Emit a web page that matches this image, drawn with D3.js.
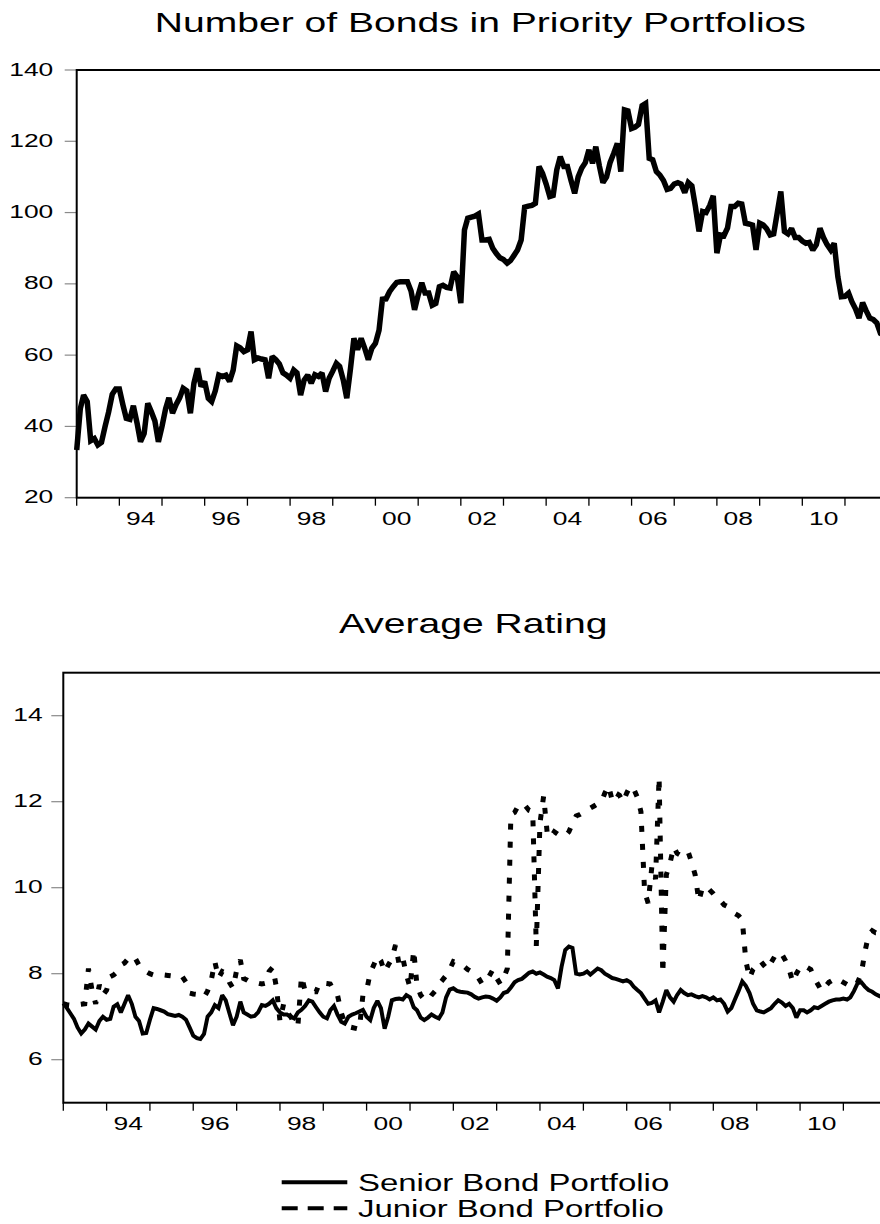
<!DOCTYPE html>
<html>
<head>
<meta charset="utf-8">
<script src="https://cdn.jsdelivr.net/npm/d3@7"></script>
<style>
  html, body { margin: 0; padding: 0; background: #fff; }
  svg { display: block; }
  text { font-family: "Liberation Sans", Arial, sans-serif; fill: #000; }
</style>
</head>
<body>
<svg id="chart" width="880" height="1224"></svg>
<script>
// Monthly observations, 1993M01 – 2011M12
const bondCounts = [
  33.4,45,48.8,47,36,36.6,34.8,35.5,40,44,
  49,50.5,50.5,46,42.3,42,45.8,41,35.7,38,
  46.5,44.2,41.5,35.7,40,45,48,43.7,46.1,48,
  50.7,50,43.7,52.1,56.3,51.2,52.6,47.9,47,50,
  54.4,54,54.4,52.6,55.8,62.6,62,61,61.5,66.6,
  58.7,59.2,58.9,58.7,53.5,59.6,58.7,57.5,55,54.4,
  53.5,55.8,55,48.8,53,54.4,52.1,54.5,54,55,
  49.8,53.5,55.5,57.7,56.8,53,47.9,56,64.7,61.5,
  64.7,62,58.7,61.9,63.3,67,75.7,75.8,77.8,79.2,
  80.4,80.6,80.6,80.6,78,72.7,76.9,80.3,77.4,77.4,
  74,74.5,79.2,79.6,79,78.8,83.4,82,74.6,95.1,
  98.4,98.7,99,99.6,92.3,92.3,92.5,90,88.5,87.3,
  86.8,85.8,86.5,88,89.5,92.3,101.5,101.8,102,102.6,
  112.9,111,108,104.5,104.8,112,115.7,112.9,112.9,109,
  105.4,110,112.5,114,117.6,113.8,118.5,113,108.4,110,
  114,116.6,119.4,111.5,128.8,128.5,123.6,124,124.7,130,
  130.6,115.2,114.8,111.5,110.5,109,106.5,106.8,108,108.4,
  108,105.6,108.4,107.5,101.7,94.7,100.3,100,102,104.7,
  88.6,93.7,93.5,95.7,101.7,101.7,102.6,102.4,97,96.8,
  96.5,89.5,97,96.5,95.5,93.7,94,100,105.9,94.7,
  94,95.5,93,93,92,91.4,91.6,89.5,91,95.6,
  93,91,89.5,91.4,82,76.4,76.5,77.4,75,73,
  70.4,74.7,72.5,70.4,70,69,66.1,65.5
];

const seniorRating = [
  7.31,7.2,7.08,6.95,6.75,6.61,6.7,6.84,6.77,6.7,
  6.9,7.0,6.93,6.95,7.23,7.29,7.1,7.3,7.5,7.3,
  7.0,6.9,6.61,6.62,6.93,7.2,7.18,7.15,7.12,7.06,
  7.04,7.02,7.04,7.0,6.93,6.75,6.56,6.5,6.48,6.6,
  7.0,7.1,7.27,7.2,7.5,7.38,7.08,6.8,7.0,7.35,
  7.1,7.05,7.0,7.02,7.1,7.27,7.25,7.3,7.38,7.2,
  7.1,7.05,7.05,7.0,6.96,7.1,7.16,7.25,7.38,7.35,
  7.22,7.1,7.0,6.96,7.15,7.25,7.05,6.88,6.84,7.0,
  7.05,7.08,7.12,7.16,7.0,6.92,7.2,7.37,7.2,6.72,
  7.0,7.38,7.41,7.42,7.4,7.5,7.45,7.22,7.15,6.98,
  6.92,6.98,7.05,7.0,6.96,7.1,7.45,7.63,7.66,7.6,
  7.58,7.57,7.56,7.52,7.46,7.42,7.45,7.47,7.46,7.42,
  7.37,7.45,7.55,7.58,7.68,7.8,7.85,7.88,7.95,8.02,
  8.05,8.0,8.03,7.98,7.93,7.9,7.85,7.66,8.16,8.55,
  8.63,8.6,8.0,7.98,8.0,8.05,7.98,8.05,8.12,8.08,
  8.0,7.95,7.9,7.88,7.85,7.82,7.85,7.8,7.7,7.62,
  7.55,7.42,7.3,7.32,7.38,7.1,7.35,7.62,7.45,7.35,
  7.5,7.62,7.55,7.5,7.52,7.48,7.45,7.48,7.45,7.4,
  7.45,7.38,7.4,7.3,7.12,7.2,7.4,7.6,7.82,7.72,
  7.55,7.3,7.15,7.12,7.1,7.15,7.2,7.3,7.38,7.33,
  7.25,7.3,7.2,6.98,7.15,7.15,7.1,7.15,7.22,7.2,
  7.25,7.3,7.35,7.38,7.4,7.4,7.42,7.4,7.45,7.6,
  7.78,7.8,7.7,7.62,7.58,7.52,7.48,7.45
];

const juniorRating = [
  7.3,7.28,7.27,7.25,7.28,7.29,7.3,8.12,7.6,7.3,
  7.74,7.5,7.62,7.93,7.97,8.05,8.2,8.25,8.35,8.42,
  8.35,8.2,8.1,8.05,8.0,7.97,7.95,7.97,7.97,7.96,
  7.95,7.95,7.94,7.93,7.8,7.55,7.53,7.52,7.5,7.45,
  7.6,7.85,8.28,7.9,8.05,8.01,7.8,7.66,8.08,8.32,
  7.89,7.85,7.8,7.78,7.78,7.76,7.78,8.05,8.15,7.7,
  6.9,7.3,7.1,7.0,6.85,6.78,7.94,7.6,7.6,7.58,
  7.58,7.79,7.78,7.77,7.76,7.6,7.5,7.1,6.85,6.77,
  6.75,6.73,6.71,7.5,7.61,8.02,8.2,8.41,8.3,8.04,
  8.2,8.35,8.67,8.22,8.37,7.98,7.68,8.55,7.72,7.5,
  7.4,7.38,7.5,7.6,7.75,7.85,7.96,8.1,8.28,8.25,
  8.2,8.17,8.1,8.05,8.02,7.9,7.76,7.8,7.95,8.1,
  7.9,7.76,7.9,8.12,11.7,11.75,11.9,11.96,11.9,11.8,
  11.77,8.64,11.5,12.13,11.3,11.16,11.3,11.24,11.2,11.2,
  11.3,11.5,11.67,11.7,11.75,11.8,11.85,11.9,11.95,11.99,
  12.2,12.37,12.03,12.2,12.15,11.99,12.2,12.37,12.3,12.1,
  11.77,9.9,9.64,10.49,10.2,12.57,8.0,10.3,10.57,10.95,
  10.8,10.75,10.8,10.85,10.6,10.3,9.69,10.0,10.04,9.95,
  9.86,9.75,9.7,9.6,9.56,9.45,9.4,9.35,9.25,8.3,
  7.9,8.1,8.2,8.3,8.2,8.1,8.25,8.4,8.5,8.45,
  8.3,8.1,7.8,8.0,8.15,8.1,8.15,8.1,7.9,7.75,
  7.6,7.7,7.8,7.85,7.9,7.85,7.8,7.75,7.75,7.7,
  7.8,8.0,8.5,8.9,9.0,8.95,8.95,8.95
];

const countTicks = [20, 40, 60, 80, 100, 120, 140];
const ratingTicks = [6, 8, 10, 12, 14];
const labelYears = [1994, 1996, 1998, 2000, 2002, 2004, 2006, 2008, 2010];
const seriesNames = ["Senior Bond Portfolio", "Junior Bond Portfolio"];
const titles = ["Number of Bonds in Priority Portfolios", "Average Rating"];

const firstMonth = new Date(1993, 0, 1);
const dates = bondCounts.map((_, i) => d3.timeMonth.offset(firstMonth, i));

// the export this chart comes from renders its type wide
const TEXT_SX = 1.42;

const svg = d3.select("#chart");

function wideText(g, x, y, str, size, anchor) {
  return g.append("text")
    .attr("transform", `translate(${x},${y}) scale(${TEXT_SX},1)`)
    .attr("text-anchor", anchor)
    .style("font-size", size + "px")
    .text(str);
}

function drawPanel(p) {
  const g = svg.append("g");
  const x = d3.scaleTime().domain([dates[0], dates[dates.length - 1]]).range([p.left, p.right]);
  const y = d3.scaleLinear().domain(p.yDomain).range([p.bottom, p.top]);

  // title
  wideText(g, (p.left + p.right) / 2, p.titleY, p.title, 27.5, "middle");

  // y ticks (grey, outside) and labels
  g.selectAll(".ytick").data(p.yTicks).join("line")
    .attr("x1", p.left - 12).attr("x2", p.left)
    .attr("y1", d => y(d)).attr("y2", d => y(d))
    .attr("stroke", "#8a8a8a").attr("stroke-width", 1.2);
  p.yTicks.forEach(v => wideText(g, p.left - p.labelGap, y(v) + 5.5, String(v), 18.6, "end"));

  // x ticks at every January, labels centred in even years
  const years = d3.timeYear.range(new Date(1993, 0, 1), new Date(2013, 0, 1));
  g.selectAll(".xtick").data(years.filter(d => x(d) <= p.right + 0.5)).join("line")
    .attr("x1", d => x(d)).attr("x2", d => x(d))
    .attr("y1", p.bottom).attr("y2", p.bottom + 8)
    .attr("stroke", "#000").attr("stroke-width", 1.3);
  labelYears.forEach(yr => {
    const mid = (x(new Date(yr, 0, 1)) + x(new Date(yr + 1, 0, 1))) / 2;
    wideText(g, mid, p.bottom + 27, String(yr % 100).padStart(2, "0"), 18.6, "middle");
  });

  // series
  p.series.forEach(s => {
    const line = d3.line().x((d, i) => x(dates[i])).y(d => y(d));
    g.append("path")
      .datum(s.values)
      .attr("d", line)
      .attr("fill", "none")
      .attr("stroke", "#000")
      .attr("stroke-width", s.width)
      .attr("stroke-linejoin", "miter")
      .attr("stroke-miterlimit", 2)
      .attr("stroke-dasharray", s.dash || null);
  });

  // frame
  g.append("rect")
    .attr("x", p.left).attr("y", p.top)
    .attr("width", p.right - p.left).attr("height", p.bottom - p.top)
    .attr("fill", "none").attr("stroke", "#000").attr("stroke-width", 2);
}

drawPanel({
  title: titles[0], titleY: 32,
  left: 76.7, right: 884, top: 70, bottom: 497.7,
  yDomain: [20, 140], yTicks: countTicks, labelGap: 23.4,
  series: [{ values: bondCounts, width: 5.5 }]
});

drawPanel({
  title: titles[1], titleY: 633,
  left: 63.3, right: 883, top: 672.7, bottom: 1102.7,
  yDomain: [5, 15], yTicks: ratingTicks, labelGap: 20.6,
  series: [
    { values: juniorRating, width: 5, dash: "6,12" },
    { values: seniorRating, width: 4 }
  ]
});

// legend
const lg = svg.append("g");
const legendRows = [
  { name: seriesNames[0], y: 1182.3, dash: null },
  { name: seriesNames[1], y: 1208.3, dash: "16,10" }
];
legendRows.forEach(r => {
  lg.append("line")
    .attr("x1", 281.7).attr("x2", 347.3)
    .attr("y1", r.y).attr("y2", r.y)
    .attr("stroke", "#000").attr("stroke-width", 4)
    .attr("stroke-dasharray", r.dash);
  wideText(lg, 358, r.y + 8.4, r.name, 23.2, "start");
});
</script>
</body>
</html>
